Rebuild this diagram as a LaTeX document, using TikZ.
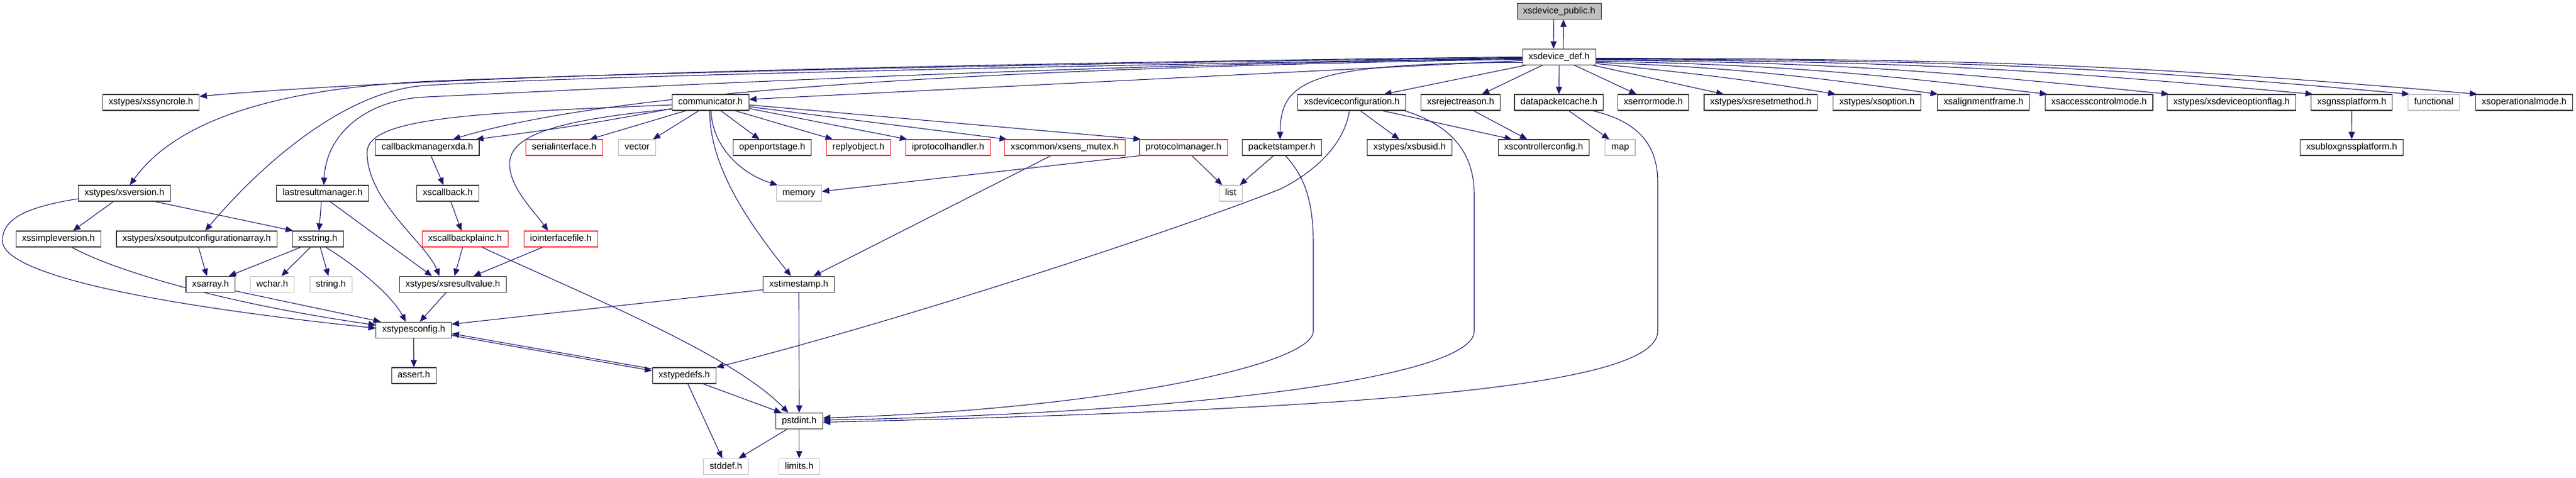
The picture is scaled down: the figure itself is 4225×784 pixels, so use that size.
\documentclass[tikz,border=0pt]{standalone}
\usepackage{fontspec}
\newfontfamily\dxfont{Liberation Sans}
\usetikzlibrary{arrows.meta}
\definecolor{dxblue}{HTML}{191970}
\definecolor{dxgrey}{HTML}{BFBFBF}
\definecolor{dxred}{HTML}{FF2020}
\pgfdeclarelayer{bg}
\pgfsetlayers{bg,main}
\newcommand{\dxf}{\dxfont\fontsize{15pt}{18pt}\selectfont}
\tikzset{
 box/.style={draw=black!80, line width=1.1pt, fill=white, inner xsep=10pt, inner ysep=0pt, minimum height=26pt, text height=11pt, text depth=3.5pt, font=\dxf},
 rbox/.style={box, draw=dxred},
 gbox/.style={box, draw=dxgrey},
 rootbox/.style={box, fill=dxgrey},
 edge/.style={draw=dxblue, line width=1.1pt, -{Triangle[length=12pt,width=10pt]}},
}
\begin{document}
\begin{tikzpicture}[x=1pt,y=-1pt]
\useasboundingbox (0,0) rectangle (4225,784);
% row 0,1
\node[rootbox] (pub) at (2557.3,18.5) {xsdevice\_public.h};
\node[box] (def) at (2557.1,93.3) {xsdevice\_def.h};
% row 2
\node[box] (syncrole) at (247.6,168) {xstypes/xssyncrole.h};
\node[box] (comm) at (1165.2,168) {communicator.h};
\node[box] (devconf) at (2217.2,168) {xsdeviceconfiguration.h};
\node[box] (reject) at (2395.7,168) {xsrejectreason.h};
\node[box] (dpc) at (2556.9,168) {datapacketcache.h};
\node[box] (errmode) at (2711.5,168) {xserrormode.h};
\node[box] (resetm) at (2887.9,168) {xstypes/xsresetmethod.h};
\node[box] (option) at (3078.5,168) {xstypes/xsoption.h};
\node[box] (align) at (3253.3,168) {xsalignmentframe.h};
\node[box] (access) at (3442.6,168) {xsaccesscontrolmode.h};
\node[box] (optflag) at (3660,168) {xstypes/xsdeviceoptionflag.h};
\node[box] (gnss) at (3857.2,168) {xsgnssplatform.h};
\node[gbox] (functional) at (3991.7,168) {functional};
\node[box] (opmode) at (4139.9,168) {xsoperationalmode.h};
% row 3
\node[box] (cbm) at (700.9,242) {callbackmanagerxda.h};
\node[rbox] (serial) at (925.3,242) {serialinterface.h};
\node[gbox] (vector) at (1045,242) {vector};
\node[box] (openport) at (1266.5,242) {openportstage.h};
\node[rbox] (reply) at (1407.9,242) {replyobject.h};
\node[rbox] (iproto) at (1554.9,242) {iprotocolhandler.h};
\node[rbox] (mutex) at (1746.4,242) {xscommon/xsens\_mutex.h};
\node[rbox] (protoman) at (1941.1,242) {protocolmanager.h};
\node[box] (pstamper) at (2102.5,242) {packetstamper.h};
\node[box] (busid) at (2311.9,242) {xstypes/xsbusid.h};
\node[box] (ctrlconf) at (2531.8,242) {xscontrollerconfig.h};
\node[gbox] (map) at (2657.4,242) {map};
\node[box] (ublox) at (3857.1,242) {xsubloxgnssplatform.h};
% row 4
\node[box] (version) at (204,317) {xstypes/xsversion.h};
\node[box] (lastres) at (529.1,317) {lastresultmanager.h};
\node[box] (xscallback) at (734.4,317) {xscallback.h};
\node[gbox] (memory) at (1310.4,317) {memory};
\node[gbox] (list) at (2018.5,317) {list};
% row 5
\node[box] (simplever) at (95.8,392) {xssimpleversion.h};
\node[box] (outcfg) at (322.6,392) {xstypes/xsoutputconfigurationarray.h};
\node[box] (xsstring) at (521.2,392) {xsstring.h};
\node[rbox] (cbplain) at (762.7,392) {xscallbackplainc.h};
\node[rbox] (iointf) at (919.9,392) {iointerfacefile.h};
% row 6
\node[box] (xsarray) at (345.3,466.3) {xsarray.h};
\node[gbox] (wchar) at (446.5,466.3) {wchar.h};
\node[gbox] (stringh) at (542.7,466.3) {string.h};
\node[box] (resval) at (742.6,466.3) {xstypes/xsresultvalue.h};
\node[box] (tstamp) at (1310.2,466.3) {xstimestamp.h};
% row 7-10
\node[box] (tconf) at (678.6,541.2) {xstypesconfig.h};
\node[box] (assert) at (678.8,616) {assert.h};
\node[box] (tdefs) at (1122.2,616) {xstypedefs.h};
\node[box] (pstdint) at (1310.8,690.5) {pstdint.h};
\node[gbox] (stddef) at (1190.6,765.3) {stddef.h};
\node[gbox] (limits) at (1310.8,765.3) {limits.h};

\begin{pgfonlayer}{bg}
% root and def
\draw[edge] ([xshift=-9pt]pub.south) -- ([xshift=-9pt]def.north);
\draw[edge] ([xshift=7pt]def.north) -- ([xshift=7pt]pub.south);
% def to the left
\draw[edge] (def.west) .. controls (1500,105) and (700,125) .. ([yshift=10pt]syncrole.east);
\draw[edge] ([yshift=-1pt]def.west) .. controls (1500,107) and (900,125) .. (710,133) .. controls (420,146) and (280,210) .. ([xshift=9pt]version.north);
\draw[edge] ([yshift=-2pt]def.west) .. controls (1500,112) and (900,128) .. (700,140) .. controls (560,148) and (420,280) .. ([xshift=14pt]outcfg.north);
\draw[edge] ([yshift=-3pt]def.west) .. controls (1800,105) and (1100,140) .. (700,159) .. controls (600,163) and (535,220) .. ([xshift=2pt]lastres.north);
\draw[edge] ([yshift=-4pt]def.west) .. controls (1600,112) and (1000,150) .. ([xshift=42pt]cbm.north);
\draw[edge] ([yshift=-6pt]def.west) -- ([yshift=5pt]comm.east);
\draw[edge] ([yshift=-9pt]def.west) .. controls (2150,104) and (2100,130) .. ([xshift=-3pt]pstamper.north);
% def downwards
\draw[edge] ([xshift=-54pt]def.south) -- ([xshift=53pt]devconf.north);
\draw[edge] ([xshift=-27pt]def.south) -- ([xshift=35pt]reject.north);
\draw[edge] (def.south) -- (dpc.north);
\draw[edge] ([xshift=25pt]def.south) -- ([xshift=-27.5pt]errmode.north);
\draw[edge] ([xshift=55pt]def.south) -- ([xshift=-61pt]resetm.north);
% def to the right
\draw[edge] ([yshift=-11pt]def.east) .. controls +(150,15) and +(-150,-25) .. ([xshift=-68pt]option.north);
\draw[edge] ([yshift=-9pt]def.east) .. controls +(220,8) and +(-220,-30) .. ([xshift=-75pt]align.north);
\draw[edge] ([yshift=-7pt]def.east) .. controls +(300,6) and +(-300,-35) .. ([xshift=-85pt]access.north);
\draw[edge] ([yshift=-5pt]def.east) .. controls +(400,5) and +(-400,-40) .. ([xshift=-103pt]optflag.north);
\draw[edge] ([yshift=-4pt]def.east) .. controls +(500,4) and +(-500,-45) .. ([xshift=-64pt]gnss.north);
\draw[edge] ([yshift=-3pt]def.east) .. controls +(550,3) and +(-550,-50) .. ([xshift=-40pt]functional.north);
\draw[edge] ([yshift=-2pt]def.east) .. controls +(600,2) and +(-600,-52) .. ([xshift=-77pt]opmode.north);
% communicator
\draw[edge] ([yshift=-10pt]comm.west) .. controls (950,208) and (830,222) .. ([xshift=80pt]cbm.north);
\draw[edge] ([yshift=-4pt]comm.west) .. controls (800,185) and (602,190) .. (602,250) .. controls (602,330) and (700,400) .. ([xshift=-22pt]resval.north);
\draw[edge] ([xshift=-40pt]comm.south) -- ([xshift=42pt]serial.north);
\draw[edge] ([xshift=-19pt]comm.south) -- ([xshift=26pt]vector.north);
\draw[edge] ([xshift=17pt]comm.south) -- ([xshift=-21pt]openport.north);
\draw[edge] ([xshift=40pt]comm.south) -- ([xshift=-42pt]reply.north);
\draw[edge] ([yshift=-10pt]comm.east) -- ([xshift=-67pt]iproto.north);
\draw[edge] ([yshift=-7pt]comm.east) -- ([xshift=-95pt]mutex.north);
\draw[edge] ([yshift=-4pt]comm.east) -- ([xshift=-70pt]protoman.north);
\draw[edge] ([xshift=1pt]comm.south) .. controls (1168,240) and (1215,285) .. ([xshift=-35pt]memory.north);
\draw[edge] ([xshift=-1pt]comm.south) .. controls (1163,280) and (1240,380) .. ([xshift=-13pt]tstamp.north);
\draw[edge] ([yshift=-11pt]comm.west) .. controls (920,196) and (840,220) .. (836,265) .. controls (833,305) and (875,345) .. ([xshift=-21pt]iointf.north);
% middle left
\draw[edge] ([xshift=-2pt]lastres.south) -- ([xshift=2pt]xsstring.north);
\draw[edge] ([xshift=12pt]lastres.south) -- ([xshift=-34pt]resval.north);
\draw[edge] ([xshift=6pt]cbm.south) -- ([xshift=-7pt]xscallback.north);
\draw[edge] ([xshift=5pt]xscallback.south) -- ([xshift=-6pt]cbplain.north);
\draw[edge] ([xshift=-4pt]cbplain.south) -- ([xshift=3pt]resval.north);
\draw[edge] ([xshift=28pt]cbplain.south) .. controls (950,480) and (1200,580) .. ([xshift=-18pt]pstdint.north);
\draw[edge] ([xshift=-30pt]iointf.south) -- ([xshift=34pt]resval.north);
\draw[edge] ([xshift=-18pt]version.south) -- ([xshift=24pt]simplever.north);
\draw[edge] ([xshift=50pt]version.south) -- ([xshift=2pt]xsstring.north west);
\draw[edge] ([yshift=-9pt]version.west) .. controls (40,340) and (4,360) .. (4,395) .. controls (4,450) and (250,500) .. ([yshift=3pt]tconf.west);
\draw[edge] ([xshift=22pt]simplever.south) .. controls (180,440) and (350,495) .. ([yshift=8pt]tconf.west);
\draw[edge] ([xshift=3pt]outcfg.south) -- ([xshift=-6pt]xsarray.north);
\draw[edge] ([xshift=-28pt]xsstring.south) -- ([xshift=30pt]xsarray.north);
\draw[edge] ([xshift=-12pt]xsstring.south) -- ([xshift=15pt]wchar.north);
\draw[edge] ([xshift=4pt]xsstring.south) -- ([xshift=-4pt]stringh.north);
\draw[edge] ([xshift=13pt]xsstring.south) .. controls (575,430) and (640,480) .. ([xshift=-13pt]tconf.north);
\draw[edge] ([yshift=-11pt]xsarray.east) -- ([xshift=-54pt]tconf.north);
\draw[edge] ([xshift=-11pt]resval.south) -- ([xshift=10pt]tconf.north);
\draw[edge] ([yshift=-9pt]tstamp.west) -- ([yshift=9.5pt]tconf.east);
\draw[edge] (tstamp.south) -- (pstdint.north);
\draw[edge] ([yshift=-9pt]tconf.east) -- ([yshift=8pt]tdefs.west);
\draw[edge] ([yshift=11pt]tdefs.west) -- ([yshift=-6pt]tconf.east);
\draw[edge] (tconf.south) -- (assert.north);
\draw[edge] ([xshift=31pt]tdefs.south) -- ([xshift=-29pt]pstdint.north);
\draw[edge] ([xshift=6pt]tdefs.south) -- ([xshift=-6pt]stddef.north);
\draw[edge] ([xshift=-20pt]pstdint.south) -- ([xshift=21pt]stddef.north);
\draw[edge] (pstdint.south) -- (limits.north);
% long curves into pstdint
\draw[edge] ([xshift=6pt]pstamper.south) .. controls (2140,290) and (2154,330) .. (2154,400) -- (2154,543) .. controls (2154,600) and (1800,672) .. ([yshift=5pt]pstdint.east);
\draw[edge] ([xshift=86pt]devconf.south) .. controls (2380,205) and (2418,250) .. (2418,320) -- (2418,543) .. controls (2418,620) and (1950,678) .. ([yshift=1.5pt]pstdint.east);
\draw[edge] ([xshift=55pt]dpc.south) .. controls (2690,200) and (2719,240) .. (2719,300) -- (2719,543) .. controls (2719,630) and (2300,670) .. ([yshift=-2pt]pstdint.east);
% row 2 to row 3
\draw[edge] ([xshift=14pt]devconf.south) -- ([xshift=-17pt]busid.north);
\draw[edge] ([xshift=50pt]devconf.south) -- ([xshift=-52pt]ctrlconf.north);
\draw[edge] ([xshift=-4pt]devconf.south) .. controls (2205,235) and (2160,280) .. (2100,310) .. controls (1950,370) and (1500,520) .. (tdefs.north east);
\draw[edge] ([xshift=21pt]reject.south) -- ([xshift=-27pt]ctrlconf.north);
\draw[edge] ([xshift=16pt]dpc.south) -- ([xshift=-18pt]map.north);
\draw[edge] (gnss.south) -- (ublox.north);
\draw[edge] ([xshift=14pt]protoman.south) -- ([xshift=-14pt]list.north);
\draw[edge] ([xshift=-14pt]pstamper.south) -- ([xshift=15pt]list.north);
\draw[edge] (protoman.south west) -- ([yshift=3pt]memory.east);
\draw[edge] ([xshift=-23pt]mutex.south) -- ([xshift=24pt]tstamp.north);
\end{pgfonlayer}
\end{tikzpicture}
\end{document}
